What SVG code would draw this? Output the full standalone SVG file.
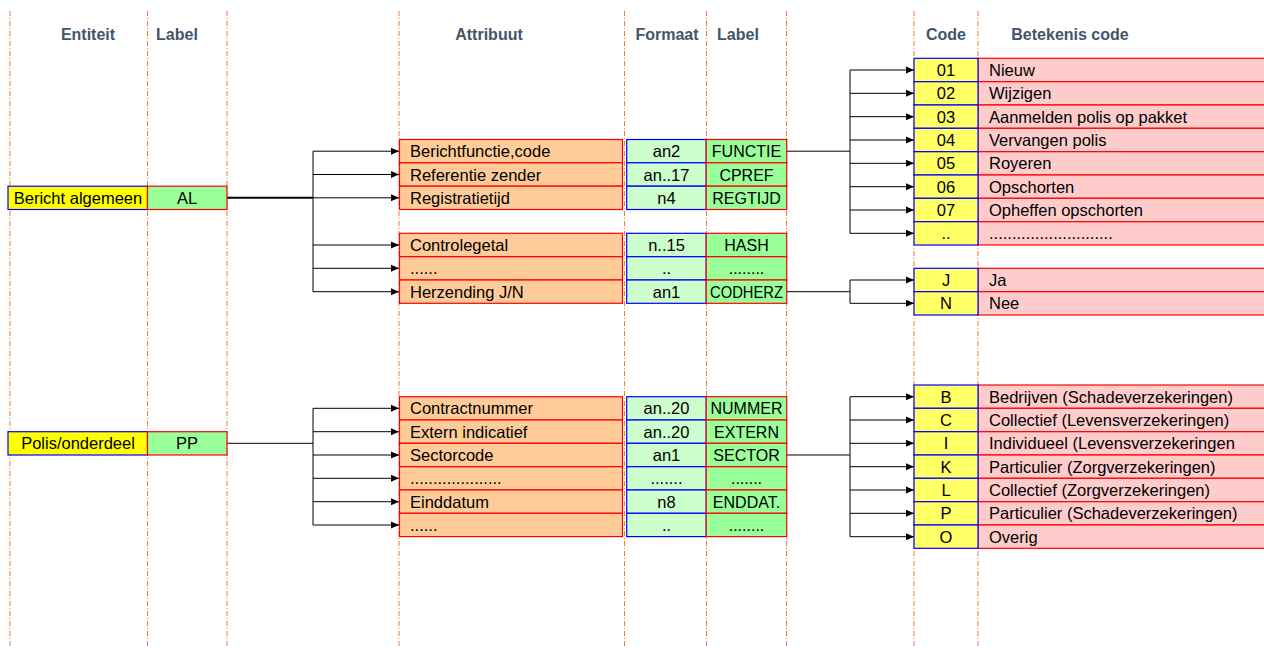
<svg xmlns="http://www.w3.org/2000/svg" width="1264" height="648" viewBox="0 0 1264 648">
<style>
.guide{stroke:#ED7D31;stroke-width:1;stroke-dasharray:5 2 1 2;fill:none}
.hdr{font-family:"Liberation Sans",Arial,sans-serif;font-weight:bold;font-size:16px;fill:#44546A;text-anchor:middle}
.t{font-family:"Liberation Sans",Arial,sans-serif;font-size:16.5px;fill:#000}
.tl{font-family:"Liberation Sans",Arial,sans-serif;font-size:16px;fill:#000;text-anchor:middle}
.c{text-anchor:middle}
.ent{fill:#FFFF00;stroke:#0000FF;stroke-width:1.2}
.lab{fill:#99FF99;stroke:#FF0000;stroke-width:1.2}
.att{fill:#FFCC99;stroke:#FF0000;stroke-width:1.2}
.fmt{fill:#CCFFCC;stroke:#0000FF;stroke-width:1.2}
.code{fill:#FFFF66;stroke:#0000FF;stroke-width:1.2}
.mean{fill:#FFCCCC;stroke:#FF0000;stroke-width:1.2}
.conn{stroke:#000;stroke-width:1;fill:none}
.arr{stroke:#000;stroke-width:1;fill:none;marker-end:url(#ah)}
</style>
<defs>
<marker id="ah" markerUnits="userSpaceOnUse" markerWidth="9" markerHeight="8" refX="8" refY="4" orient="auto">
<path d="M0,0.5 L8,4 L0,7.5 Z" fill="#000"/>
</marker>
</defs>
<rect width="1264" height="648" fill="#fff"/>
<g id="guides">
<line class="guide" x1="10" y1="11" x2="10" y2="648"/>
<line class="guide" x1="147.5" y1="11" x2="147.5" y2="648"/>
<line class="guide" x1="227" y1="11" x2="227" y2="648"/>
<line class="guide" x1="399" y1="11" x2="399" y2="648"/>
<line class="guide" x1="624.5" y1="11" x2="624.5" y2="648"/>
<line class="guide" x1="706.5" y1="11" x2="706.5" y2="648"/>
<line class="guide" x1="786.5" y1="11" x2="786.5" y2="648"/>
<line class="guide" x1="914" y1="11" x2="914" y2="648"/>
<line class="guide" x1="978" y1="11" x2="978" y2="648"/>
</g>
<g id="headers">
<text class="hdr" x="88" y="40">Entiteit</text>
<text class="hdr" x="177" y="40">Label</text>
<text class="hdr" x="489" y="40">Attribuut</text>
<text class="hdr" x="667" y="40">Formaat</text>
<text class="hdr" x="738" y="40">Label</text>
<text class="hdr" x="946" y="40">Code</text>
<text class="hdr" x="1070" y="40">Betekenis code</text>
</g>
<g id="connectors">
<line x1="227" y1="197.8" x2="313" y2="197.8" stroke="#000" stroke-width="2"/>
<line class="conn" x1="313" y1="151.2" x2="313" y2="291.7"/>
<line class="arr" x1="313" y1="151.2" x2="399" y2="151.2"/>
<line class="arr" x1="313" y1="174.5" x2="399" y2="174.5"/>
<line class="arr" x1="313" y1="197.8" x2="399" y2="197.8"/>
<line class="arr" x1="313" y1="245" x2="399" y2="245"/>
<line class="arr" x1="313" y1="268.3" x2="399" y2="268.3"/>
<line class="arr" x1="313" y1="291.7" x2="399" y2="291.7"/>
<line class="conn" x1="227" y1="443.3" x2="313" y2="443.3"/>
<line class="conn" x1="313" y1="408.3" x2="313" y2="525"/>
<line class="arr" x1="313" y1="408.3" x2="399" y2="408.3"/>
<line class="arr" x1="313" y1="431.7" x2="399" y2="431.7"/>
<line class="arr" x1="313" y1="455" x2="399" y2="455"/>
<line class="arr" x1="313" y1="478.3" x2="399" y2="478.3"/>
<line class="arr" x1="313" y1="501.7" x2="399" y2="501.7"/>
<line class="arr" x1="313" y1="525" x2="399" y2="525"/>
<line class="conn" x1="786.7" y1="151.2" x2="850" y2="151.2"/>
<line class="conn" x1="850" y1="70" x2="850" y2="233.3"/>
<line class="arr" x1="850" y1="70" x2="914" y2="70"/>
<line class="arr" x1="850" y1="93.3" x2="914" y2="93.3"/>
<line class="arr" x1="850" y1="116.7" x2="914" y2="116.7"/>
<line class="arr" x1="850" y1="140" x2="914" y2="140"/>
<line class="arr" x1="850" y1="163.3" x2="914" y2="163.3"/>
<line class="arr" x1="850" y1="186.7" x2="914" y2="186.7"/>
<line class="arr" x1="850" y1="210" x2="914" y2="210"/>
<line class="arr" x1="850" y1="233.3" x2="914" y2="233.3"/>
<line class="conn" x1="786.7" y1="291.7" x2="850" y2="291.7"/>
<line class="conn" x1="850" y1="280" x2="850" y2="303.3"/>
<line class="arr" x1="850" y1="280" x2="914" y2="280"/>
<line class="arr" x1="850" y1="303.3" x2="914" y2="303.3"/>
<line class="conn" x1="786.7" y1="455" x2="850" y2="455"/>
<line class="conn" x1="850" y1="396.7" x2="850" y2="536.7"/>
<line class="arr" x1="850" y1="396.7" x2="914" y2="396.7"/>
<line class="arr" x1="850" y1="420" x2="914" y2="420"/>
<line class="arr" x1="850" y1="443.3" x2="914" y2="443.3"/>
<line class="arr" x1="850" y1="466.7" x2="914" y2="466.7"/>
<line class="arr" x1="850" y1="490" x2="914" y2="490"/>
<line class="arr" x1="850" y1="513.3" x2="914" y2="513.3"/>
<line class="arr" x1="850" y1="536.7" x2="914" y2="536.7"/>
</g>
<g id="entity-bericht">
<rect class="ent" x="8" y="186.2" width="139.5" height="23.3"/>
<text class="t c" x="78" y="203.8">Bericht algemeen</text>
<rect class="lab" x="147.5" y="186.2" width="79.5" height="23.3"/>
<text class="t c" x="187" y="203.8">AL</text>
</g>
<g id="entity-polis">
<rect class="ent" x="8" y="431.7" width="139.5" height="23.3"/>
<text class="t c" x="78" y="449.3">Polis/onderdeel</text>
<rect class="lab" x="147.5" y="431.7" width="79.5" height="23.3"/>
<text class="t c" x="187" y="449.3">PP</text>
</g>
<g id="attr-functie">
<rect class="att" x="399.5" y="139.5" width="223" height="23.3"/><text class="t" x="410" y="157.2">Berichtfunctie,code</text>
<rect class="fmt" x="626.7" y="139.5" width="79.5" height="23.3"/><text class="t c" x="666.5" y="157.2">an2</text>
<rect class="lab" x="706.2" y="139.5" width="80.5" height="23.3"/><text class="tl" x="746.5" y="157.2">FUNCTIE</text>
</g>
<g id="attr-cpref">
<rect class="att" x="399.5" y="162.8" width="223" height="23.3"/><text class="t" x="410" y="180.5">Referentie zender</text>
<rect class="fmt" x="626.7" y="162.8" width="79.5" height="23.3"/><text class="t c" x="666.5" y="180.5">an..17</text>
<rect class="lab" x="706.2" y="162.8" width="80.5" height="23.3"/><text class="tl" x="746.5" y="180.5">CPREF</text>
</g>
<g id="attr-regtijd">
<rect class="att" x="399.5" y="186.2" width="223" height="23.3"/><text class="t" x="410" y="203.8">Registratietijd</text>
<rect class="fmt" x="626.7" y="186.2" width="79.5" height="23.3"/><text class="t c" x="666.5" y="203.8">n4</text>
<rect class="lab" x="706.2" y="186.2" width="80.5" height="23.3"/><text class="tl" x="746.5" y="203.8">REGTIJD</text>
</g>
<g id="attr-hash">
<rect class="att" x="399.5" y="233.3" width="223" height="23.3"/><text class="t" x="410" y="251">Controlegetal</text>
<rect class="fmt" x="626.7" y="233.3" width="79.5" height="23.3"/><text class="t c" x="666.5" y="251">n..15</text>
<rect class="lab" x="706.2" y="233.3" width="80.5" height="23.3"/><text class="tl" x="746.5" y="251">HASH</text>
</g>
<g id="attr-dots1">
<rect class="att" x="399.5" y="256.7" width="223" height="23.3"/><text class="t" x="410" y="274.3">......</text>
<rect class="fmt" x="626.7" y="256.7" width="79.5" height="23.3"/><text class="t c" x="666.5" y="274.3">..</text>
<rect class="lab" x="706.2" y="256.7" width="80.5" height="23.3"/><text class="tl" x="746.5" y="274.3">........</text>
</g>
<g id="attr-codherz">
<rect class="att" x="399.5" y="280" width="223" height="23.3"/><text class="t" x="410" y="297.7">Herzending J/N</text>
<rect class="fmt" x="626.7" y="280" width="79.5" height="23.3"/><text class="t c" x="666.5" y="297.7">an1</text>
<rect class="lab" x="706.2" y="280" width="80.5" height="23.3"/><text class="tl" x="746.5" y="297.7" textLength="73" lengthAdjust="spacingAndGlyphs">CODHERZ</text>
</g>
<g id="attr-nummer">
<rect class="att" x="399.5" y="396.7" width="223" height="23.3"/><text class="t" x="410" y="414.3">Contractnummer</text>
<rect class="fmt" x="626.7" y="396.7" width="79.5" height="23.3"/><text class="t c" x="666.5" y="414.3">an..20</text>
<rect class="lab" x="706.2" y="396.7" width="80.5" height="23.3"/><text class="tl" x="746.5" y="414.3">NUMMER</text>
</g>
<g id="attr-extern">
<rect class="att" x="399.5" y="420" width="223" height="23.3"/><text class="t" x="410" y="437.7">Extern indicatief</text>
<rect class="fmt" x="626.7" y="420" width="79.5" height="23.3"/><text class="t c" x="666.5" y="437.7">an..20</text>
<rect class="lab" x="706.2" y="420" width="80.5" height="23.3"/><text class="tl" x="746.5" y="437.7">EXTERN</text>
</g>
<g id="attr-sector">
<rect class="att" x="399.5" y="443.3" width="223" height="23.3"/><text class="t" x="410" y="461">Sectorcode</text>
<rect class="fmt" x="626.7" y="443.3" width="79.5" height="23.3"/><text class="t c" x="666.5" y="461">an1</text>
<rect class="lab" x="706.2" y="443.3" width="80.5" height="23.3"/><text class="tl" x="746.5" y="461">SECTOR</text>
</g>
<g id="attr-dots2">
<rect class="att" x="399.5" y="466.7" width="223" height="23.3"/><text class="t" x="410" y="484.3">....................</text>
<rect class="fmt" x="626.7" y="466.7" width="79.5" height="23.3"/><text class="t c" x="666.5" y="484.3">.......</text>
<rect class="lab" x="706.2" y="466.7" width="80.5" height="23.3"/><text class="tl" x="746.5" y="484.3">.......</text>
</g>
<g id="attr-enddat">
<rect class="att" x="399.5" y="490" width="223" height="23.3"/><text class="t" x="410" y="507.7">Einddatum</text>
<rect class="fmt" x="626.7" y="490" width="79.5" height="23.3"/><text class="t c" x="666.5" y="507.7">n8</text>
<rect class="lab" x="706.2" y="490" width="80.5" height="23.3"/><text class="tl" x="746.5" y="507.7">ENDDAT.</text>
</g>
<g id="attr-dots3">
<rect class="att" x="399.5" y="513.3" width="223" height="23.3"/><text class="t" x="410" y="531">......</text>
<rect class="fmt" x="626.7" y="513.3" width="79.5" height="23.3"/><text class="t c" x="666.5" y="531">..</text>
<rect class="lab" x="706.2" y="513.3" width="80.5" height="23.3"/><text class="tl" x="746.5" y="531">........</text>
</g>
<g id="codes-functie">
<rect class="mean" x="978" y="58.3" width="300" height="23.3"/><rect class="code" x="914" y="58.3" width="64" height="23.3"/>
<text class="t c" x="946" y="76">01</text><text class="t" x="989" y="76">Nieuw</text>
<rect class="mean" x="978" y="81.7" width="300" height="23.3"/><rect class="code" x="914" y="81.7" width="64" height="23.3"/>
<text class="t c" x="946" y="99.3">02</text><text class="t" x="989" y="99.3">Wijzigen</text>
<rect class="mean" x="978" y="105" width="300" height="23.3"/><rect class="code" x="914" y="105" width="64" height="23.3"/>
<text class="t c" x="946" y="122.7">03</text><text class="t" x="989" y="122.7">Aanmelden polis op pakket</text>
<rect class="mean" x="978" y="128.3" width="300" height="23.3"/><rect class="code" x="914" y="128.3" width="64" height="23.3"/>
<text class="t c" x="946" y="146">04</text><text class="t" x="989" y="146">Vervangen polis</text>
<rect class="mean" x="978" y="151.7" width="300" height="23.3"/><rect class="code" x="914" y="151.7" width="64" height="23.3"/>
<text class="t c" x="946" y="169.3">05</text><text class="t" x="989" y="169.3">Royeren</text>
<rect class="mean" x="978" y="175" width="300" height="23.3"/><rect class="code" x="914" y="175" width="64" height="23.3"/>
<text class="t c" x="946" y="192.7">06</text><text class="t" x="989" y="192.7">Opschorten</text>
<rect class="mean" x="978" y="198.3" width="300" height="23.3"/><rect class="code" x="914" y="198.3" width="64" height="23.3"/>
<text class="t c" x="946" y="216">07</text><text class="t" x="989" y="216">Opheffen opschorten</text>
<rect class="mean" x="978" y="221.7" width="300" height="23.3"/><rect class="code" x="914" y="221.7" width="64" height="23.3"/>
<text class="t c" x="946" y="239.3">..</text><text class="t" x="989" y="239.3">...........................</text>
</g>
<g id="codes-codherz">
<rect class="mean" x="978" y="268.3" width="300" height="23.3"/><rect class="code" x="914" y="268.3" width="64" height="23.3"/>
<text class="t c" x="946" y="286">J</text><text class="t" x="989" y="286">Ja</text>
<rect class="mean" x="978" y="291.7" width="300" height="23.3"/><rect class="code" x="914" y="291.7" width="64" height="23.3"/>
<text class="t c" x="946" y="309.3">N</text><text class="t" x="989" y="309.3">Nee</text>
</g>
<g id="codes-sector">
<rect class="mean" x="978" y="385" width="300" height="23.3"/><rect class="code" x="914" y="385" width="64" height="23.3"/>
<text class="t c" x="946" y="402.7">B</text><text class="t" x="989" y="402.7">Bedrijven (Schadeverzekeringen)</text>
<rect class="mean" x="978" y="408.3" width="300" height="23.3"/><rect class="code" x="914" y="408.3" width="64" height="23.3"/>
<text class="t c" x="946" y="426">C</text><text class="t" x="989" y="426">Collectief (Levensverzekeringen)</text>
<rect class="mean" x="978" y="431.7" width="300" height="23.3"/><rect class="code" x="914" y="431.7" width="64" height="23.3"/>
<text class="t c" x="946" y="449.3">I</text><text class="t" x="989" y="449.3">Individueel (Levensverzekeringen</text>
<rect class="mean" x="978" y="455" width="300" height="23.3"/><rect class="code" x="914" y="455" width="64" height="23.3"/>
<text class="t c" x="946" y="472.7">K</text><text class="t" x="989" y="472.7">Particulier (Zorgverzekeringen)</text>
<rect class="mean" x="978" y="478.3" width="300" height="23.3"/><rect class="code" x="914" y="478.3" width="64" height="23.3"/>
<text class="t c" x="946" y="496">L</text><text class="t" x="989" y="496">Collectief (Zorgverzekeringen)</text>
<rect class="mean" x="978" y="501.7" width="300" height="23.3"/><rect class="code" x="914" y="501.7" width="64" height="23.3"/>
<text class="t c" x="946" y="519.3">P</text><text class="t" x="989" y="519.3">Particulier (Schadeverzekeringen)</text>
<rect class="mean" x="978" y="525" width="300" height="23.3"/><rect class="code" x="914" y="525" width="64" height="23.3"/>
<text class="t c" x="946" y="542.7">O</text><text class="t" x="989" y="542.7">Overig</text>
</g>
</svg>
